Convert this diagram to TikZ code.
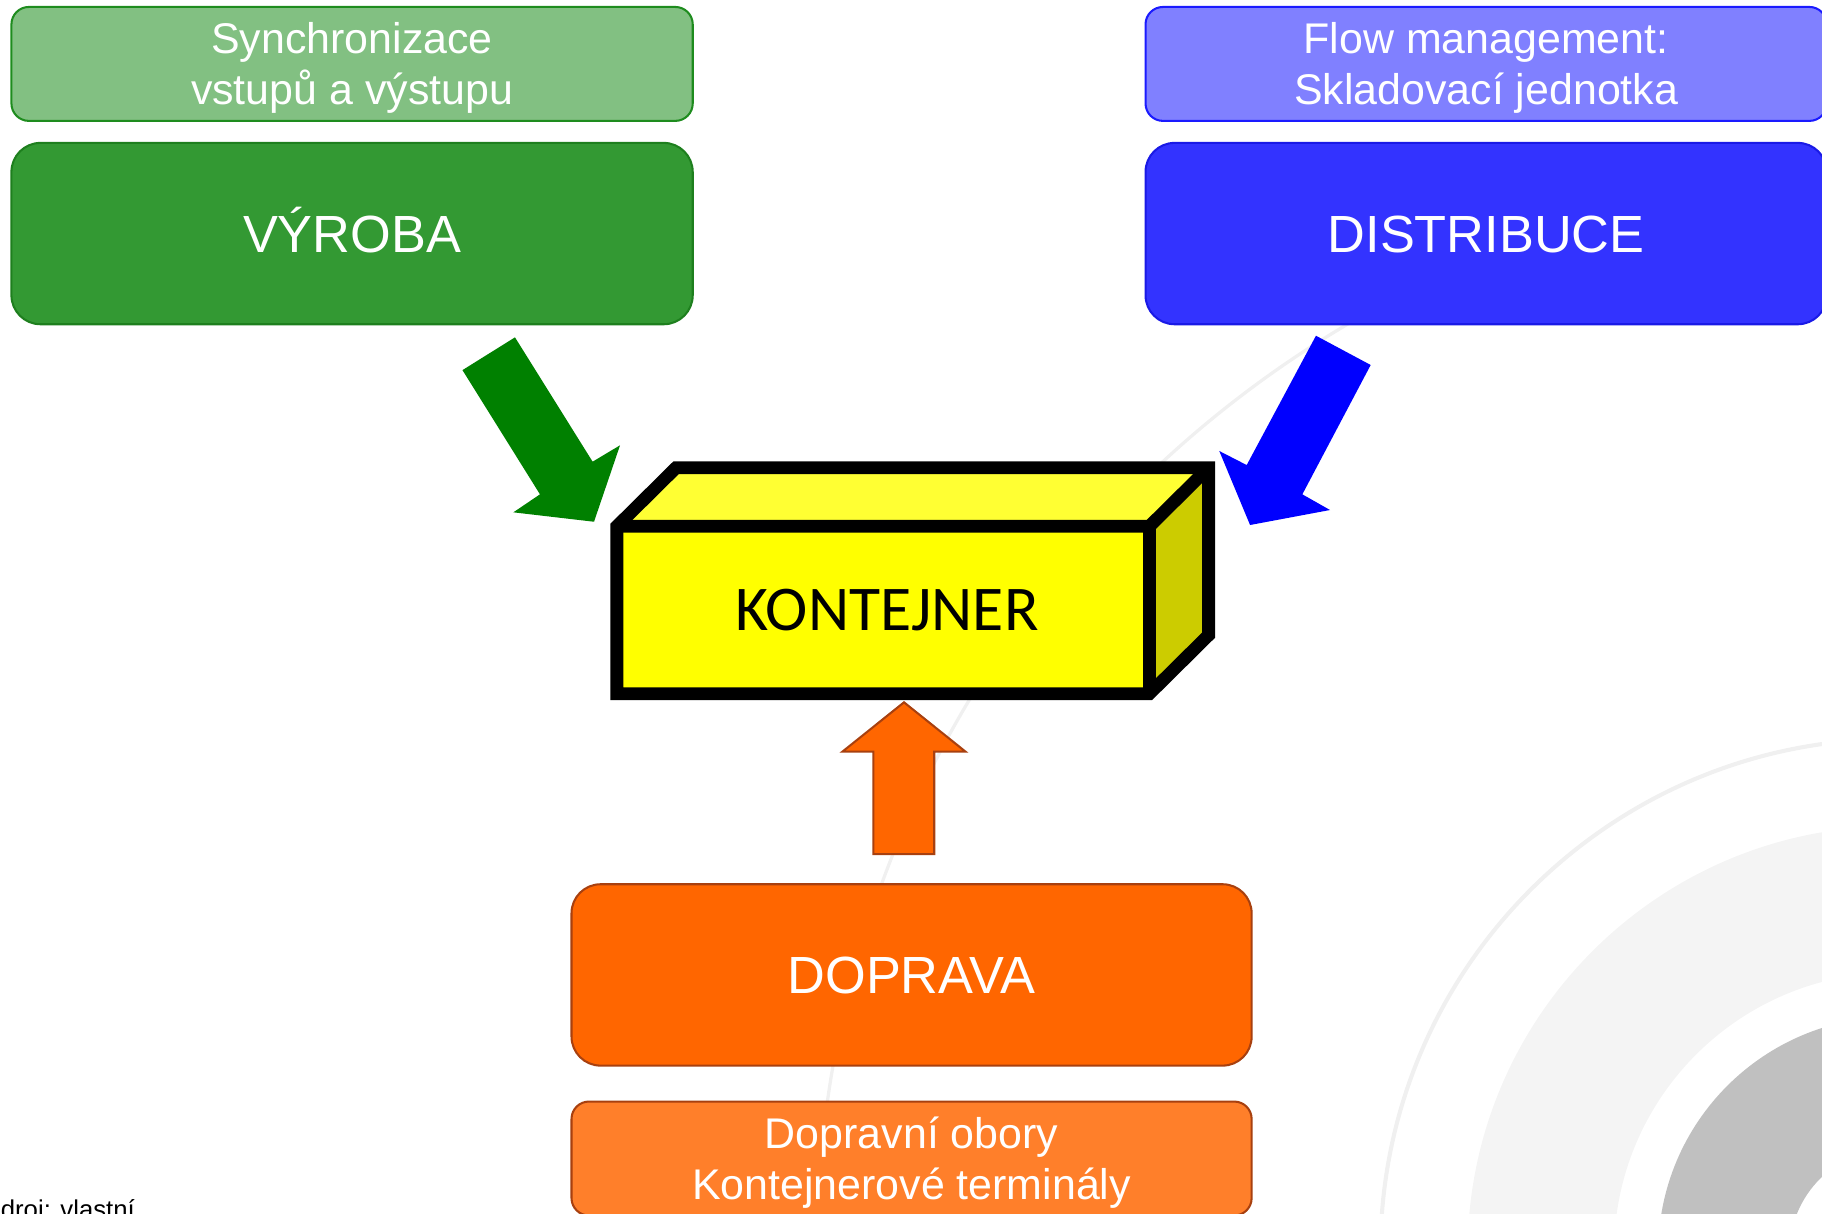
\documentclass[tikz,border=0pt]{standalone}
\usepackage{fontspec}
\usetikzlibrary{calc}
\setmainfont{Liberation Sans}
\newfontfamily\calibrif{Carlito}
\definecolor{syncfill}{HTML}{82C082}
\definecolor{syncdraw}{HTML}{1E8C1E}
\definecolor{vyrfill}{HTML}{339933}
\definecolor{vyrdraw}{HTML}{1E7F1E}
\definecolor{flowfill}{HTML}{8080FF}
\definecolor{flowdraw}{HTML}{1A1AFF}
\definecolor{disfill}{HTML}{3333FF}
\definecolor{disdraw}{HTML}{1A1AE6}
\definecolor{dopfill}{HTML}{FF6600}
\definecolor{dopdraw}{HTML}{A8400F}
\definecolor{obofill}{HTML}{FF7F2A}
\definecolor{kfront}{HTML}{FFFF00}
\definecolor{ktop}{HTML}{FFFF33}
\definecolor{kside}{HTML}{CCCC00}
\definecolor{arrgreen}{HTML}{008000}
\definecolor{arrblue}{HTML}{0000FF}
\definecolor{ringlight}{HTML}{F4F4F4}
\definecolor{ringdark}{HTML}{C0C0C0}
\definecolor{ringline}{HTML}{F0F0F0}
\begin{document}
\begin{tikzpicture}[x=0.01cm,y=-0.01cm,
  bigbox/.style={rectangle, rounded corners=0.25cm, line width=0.5pt, minimum width=5.86cm, minimum height=1.56cm, inner sep=0pt, text=white, font=\fontsize{12.8}{15}\selectfont, text height=9.2pt, text depth=0pt},
  smallbox/.style={rectangle, rounded corners=0.15cm, line width=0.5pt, minimum width=5.86cm, minimum height=0.98cm, inner sep=0pt, text=white, align=center, font=\fontsize{10.5}{12.5}\selectfont, text height=20pt, text depth=0pt},
  cube/.style={draw=black, line width=3.13pt, line join=miter},
  blockarrow/.style={line join=miter}
]
\useasboundingbox (0,0) rectangle (1568,1044);
\clip (0,0) rectangle (1568,1044);
% background rings
\fill[ringlight, even odd rule] (1630,1078) circle (367) circle (241);
\fill[ringdark, even odd rule] (1630,1078) circle (203) circle (90);
\draw[ringline, line width=1pt] (1630,1078) circle (442);
\draw[ringline, line width=0.8pt] (1630,1078) circle (927);
% boxes
\node[smallbox, draw=syncdraw, fill=syncfill] (sync) at (303,55) {Synchronizace\\vstupů a výstupu};
\node[bigbox, draw=vyrdraw, fill=vyrfill] (vyroba) at (303,201) {VÝROBA};
\node[smallbox, draw=flowdraw, fill=flowfill] (flow) at (1279,55) {Flow management:\\Skladovací jednotka};
\node[bigbox, draw=disdraw, fill=disfill] (distr) at (1279,201) {DISTRIBUCE};
\node[bigbox, draw=dopdraw, fill=dopfill, minimum width=5.85cm] (doprava) at (784.5,839) {DOPRAVA};
\node[smallbox, draw=dopdraw, fill=obofill, minimum width=5.85cm] (obory) at (784.5,997) {Dopravní obory\\Kontejnerové terminály};
% container
\node[fill=kfront, minimum width=4.58cm, minimum height=1.44cm, inner sep=0pt, outer sep=0pt, font=\calibrif\fontsize{15.6}{18}\selectfont, text height=10pt, text depth=0pt] (kont) at (760,525) {\hspace*{2pt}KONTEJNER};
\coordinate (kbl) at ($(kont.north west)+(51,-50.5)$);
\coordinate (kbr) at ($(kont.north east)+(51,-50.5)$);
\coordinate (kbb) at ($(kont.south east)+(51,-50.5)$);
\fill[ktop] (kont.north west) -- (kbl) -- (kbr) -- (kont.north east) -- cycle;
\fill[kside] (kont.north east) -- (kbr) -- (kbb) -- (kont.south east) -- cycle;
\draw[cube] (kont.north west) -- (kbl) -- (kbr) -- (kbb) -- (kont.south east) -- (kont.south west) -- cycle;
\draw[cube] (kont.north west) -- (kont.north east) -- (kbr);
\draw[cube] (kont.north east) -- (kont.south east);
% block arrows
\fill[arrgreen, blockarrow] (398,318.5) -- (443.2,290.3) -- (510,397.3) -- (533.6,383.2) -- (511.2,449) -- (441.8,440.9) -- (464.7,425.4) -- cycle;
\fill[arrblue, blockarrow] (1132.5,288.9) -- (1179.6,314.1) -- (1120.8,425.4) -- (1144.6,438.9) -- (1075.8,451.8) -- (1049.3,388.1) -- (1072.9,400.2) -- cycle;
\filldraw[fill=dopfill, draw=dopdraw, line width=0.5pt, blockarrow] (778,604.4) -- (831,646.9) -- (804,646.9) -- (804,735) -- (751.6,735) -- (751.6,646.9) -- (724.9,646.9) -- cycle;
% source
\node[anchor=base west, font=\fontsize{6.3}{7}\selectfont, inner sep=0pt] (zdroj) at (-13.5,1049) {Zdroj: vlastní};
\end{tikzpicture}
\end{document}
